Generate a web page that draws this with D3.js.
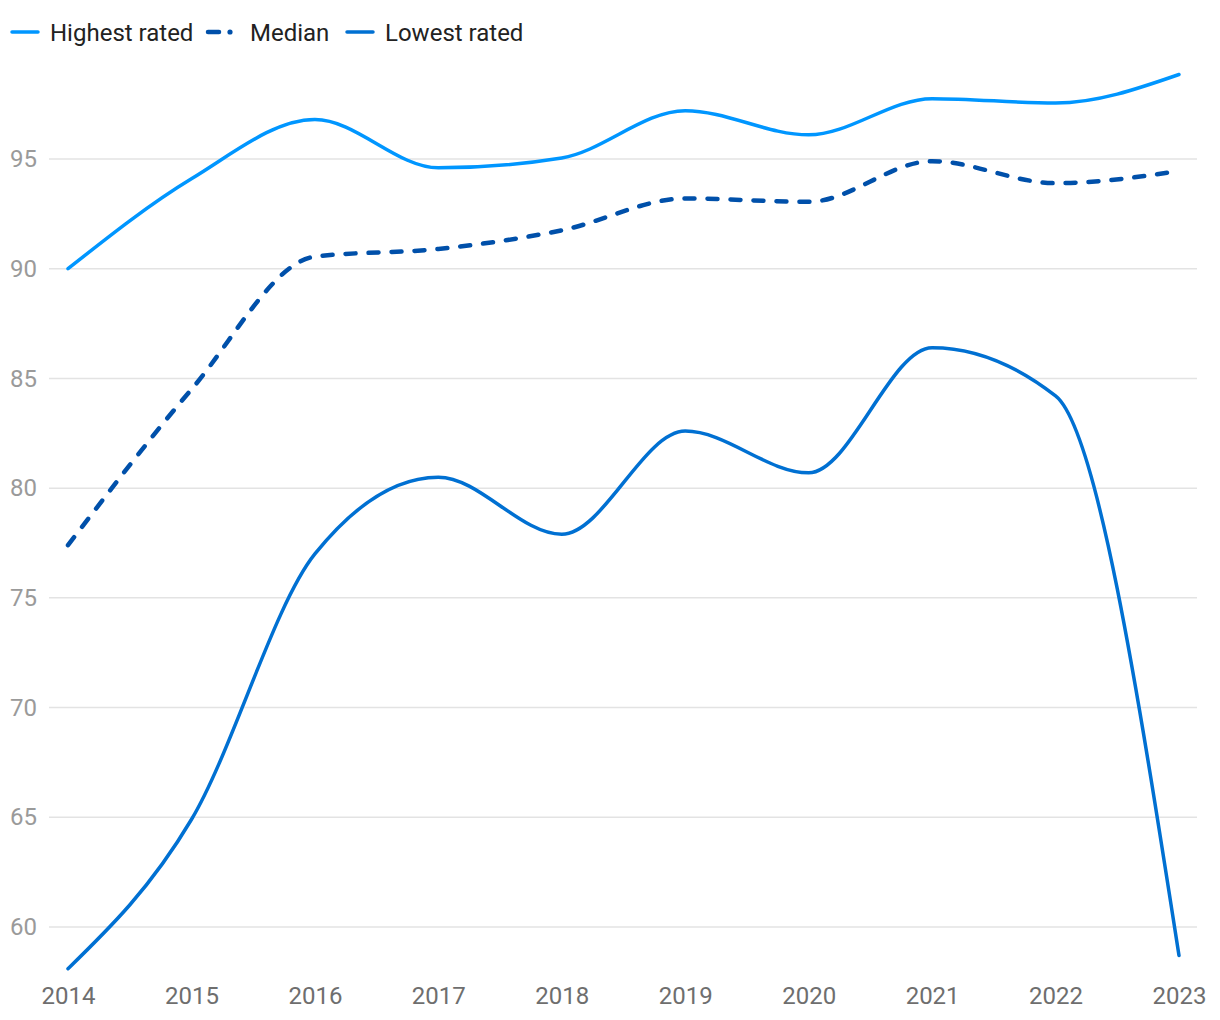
<!DOCTYPE html>
<html><head><meta charset="utf-8">
<script src="https://cdn.jsdelivr.net/npm/d3@7"></script>
<style>body{margin:0;background:#fff;font-family:Roboto,"Noto Sans",sans-serif;}</style>
</head><body><svg id="c" width="1220" height="1020"></svg>
<script>
const years = [2014,2015,2016,2017,2018,2019,2020,2021,2022,2023];
const highest = [90.0,94.1,96.8,94.6,95.05,97.2,96.1,97.75,97.55,98.85];
const median = [77.4,84.5,90.55,90.9,91.75,93.2,93.05,94.9,93.9,94.45];
const lowest = [58.1,64.9,77.0,80.5,77.9,82.6,80.7,86.4,84.2,58.7];
const yTicks = [60,65,70,75,80,85,90,95];
const seriesNames = ["Highest rated","Median","Lowest rated"];
const colors = ["#0096FF","#0050AA","#0070D2"];

const svg = d3.select("#c");
const x = d3.scalePoint().domain(years).range([68,1179]);
const y = d3.scaleLinear().domain([60,95]).range([927,159]);

// gridlines
svg.append("g").selectAll("line").data(yTicks).join("line")
  .attr("x1",49).attr("x2",1197).attr("y1",d=>y(d)).attr("y2",d=>y(d))
  .attr("stroke","#e3e3e3").attr("stroke-width",1.5);

// y axis labels
const yAxis = d3.axisLeft(y).tickValues(yTicks).tickSize(0).tickPadding(0);
const gy = svg.append("g").attr("transform","translate(37,0)").call(yAxis);
gy.select(".domain").remove();
gy.selectAll("text").attr("font-family","Roboto").attr("font-size",24).attr("fill","#9a9a9a");

// x axis labels
const xAxis = d3.axisBottom(x).tickSize(0).tickPadding(0);
const gx = svg.append("g").attr("transform","translate(0,987)").call(xAxis);
gx.select(".domain").remove();
gx.selectAll("text").attr("font-family","Roboto").attr("font-size",24).attr("fill","#6e6e6e");

const line = d3.line().x((d,i)=>x(years[i])).y(d=>y(d)).curve(d3.curveMonotoneX);
const data = [highest, median, lowest];
data.forEach((s,k)=>{
  svg.append("path").attr("d",line(s)).attr("fill","none")
    .attr("stroke",colors[k]).attr("stroke-width",k===1?4.5:3.5)
    .attr("stroke-linecap","round")
    .attr("stroke-dasharray",k===1?"10,13":null);
});

// legend
const leg = svg.append("g");
const lx = [12,208,347], tx = [50,250,385];
seriesNames.forEach((n,k)=>{
  if(k===1){
    leg.append("line").attr("x1",lx[k]).attr("x2",lx[k]+11).attr("y1",32).attr("y2",32)
      .attr("stroke",colors[k]).attr("stroke-width",4.5).attr("stroke-linecap","round");
    leg.append("circle").attr("cx",lx[k]+22).attr("cy",32).attr("r",2.6).attr("fill",colors[k]);
  } else {
    leg.append("line").attr("x1",lx[k]).attr("x2",lx[k]+26).attr("y1",32).attr("y2",32)
      .attr("stroke",colors[k]).attr("stroke-width",3.5).attr("stroke-linecap","round");
  }
  leg.append("text").attr("x",tx[k]).attr("y",41).text(n)
    .attr("font-family","Roboto").attr("font-size",24).attr("fill","#222");
});
</script></body></html>
